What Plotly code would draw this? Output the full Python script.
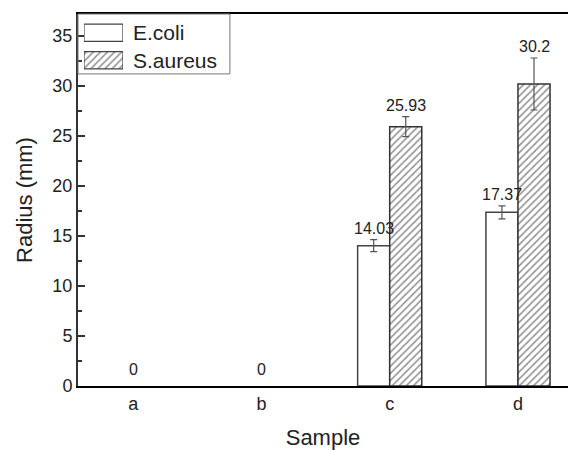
import plotly.graph_objects as go

# Inhibition-zone radius per sample
samples = ["a", "b", "c", "d"]
ecoli = [0, 0, 14.03, 17.37]
ecoli_err = [0, 0, 0.6, 0.65]
saureus = [0, 0, 25.93, 30.2]
saureus_err = [0, 0, 1.0, 2.6]
series_names = ["E.coli", "S.aureus"]

FONT = "Liberation Sans, Arial, sans-serif"
INK = "#222222"
HATCH = dict(shape="/", fgcolor="#262626", bgcolor="white", size=5, solidity=0.32)


def nonzero(vals, errs):
    # zero-height bars have no visible extent; leave them (and their caps) out
    keep = [i for i, v in enumerate(vals) if v != 0]
    return ([samples[i] for i in keep], [vals[i] for i in keep], [errs[i] for i in keep])


fig = go.Figure()
ex, ey, ee = nonzero(ecoli, ecoli_err)
fig.add_bar(
    name=series_names[0], x=ex, y=ey, showlegend=False,
    marker=dict(color="white", line=dict(color="#444444", width=1.5)),
    error_y=dict(type="data", array=ee, color="#555555", thickness=1.2, width=3.5),
)
sx, sy, se = nonzero(saureus, saureus_err)
fig.add_bar(
    name=series_names[1], x=sx, y=sy, showlegend=False,
    marker=dict(color="white", line=dict(color="#333333", width=1.5), pattern=HATCH),
    error_y=dict(type="data", array=se, color="#555555", thickness=1.2, width=3.5),
)

# Legend swatches: one horizontal bar per series on a small overlay axis pair
fig.add_bar(
    x=[1, 1], y=[1, 0], orientation="h", width=0.63, base=0,
    xaxis="x2", yaxis="y2", showlegend=False, hoverinfo="skip",
    marker=dict(color="white", line=dict(color="#444444", width=1.2),
                pattern=dict(shape=["", "/"], fgcolor="#262626", bgcolor="white",
                             size=5, solidity=0.32)),
)

# Value labels above each bar; zero-height groups get one centred label
annotations = []
for i, s in enumerate(samples):
    if ecoli[i] == 0 and saureus[i] == 0:
        annotations.append(dict(x=s, y=0, text="0", showarrow=False,
                                yanchor="bottom", yshift=6))
    else:
        annotations.append(dict(x=i - 0.125, y=ecoli[i] + ecoli_err[i], text=f"{ecoli[i]:g}",
                                showarrow=False, yanchor="bottom", yshift=1))
        annotations.append(dict(x=i + 0.125, y=saureus[i] + saureus_err[i], text=f"{saureus[i]:g}",
                                showarrow=False, yanchor="bottom", yshift=1))
for a in annotations:
    a["font"] = dict(family=FONT, size=16, color=INK)

# Legend labels
for name, yp in zip(series_names, [0.949, 0.876]):
    annotations.append(dict(xref="paper", yref="paper", x=0.108, y=yp, text=name,
                            showarrow=False, xanchor="left", yanchor="middle",
                            font=dict(family=FONT, size=21, color=INK)))

fig.update_layout(
    width=568, height=450,
    margin=dict(l=78, r=0, t=14, b=64),
    paper_bgcolor="white", plot_bgcolor="white",
    barmode="group", bargap=0.5, bargroupgap=0,
    font=dict(family=FONT, color=INK),
    annotations=annotations,
    showlegend=False,
    shapes=[dict(type="rect", xref="paper", yref="paper", x0=0, x1=0.31, y0=0.839, y1=1,
                 line=dict(color="#777777", width=1), fillcolor="rgba(0,0,0,0)", layer="above")],
    xaxis=dict(
        type="category", categoryorder="array", categoryarray=samples, range=[-0.43, 3.39],
        tickvals=samples, ticktext=samples,
        showline=True, linecolor="black", linewidth=2, mirror=True,
        ticks="", showgrid=False, zeroline=False,
        tickfont=dict(family=FONT, size=18, color=INK),
        title=dict(text="Sample", font=dict(family=FONT, size=22, color=INK), standoff=17),
    ),
    yaxis=dict(
        range=[0, 37.2], tickvals=[0, 5, 10, 15, 20, 25, 30, 35],
        showline=True, linecolor="#333333", linewidth=2,
        ticks="inside", ticklen=7, tickwidth=1.5, tickcolor="#333333",
        minor=dict(ticks="inside", ticklen=4, tickwidth=1.5, tickcolor="#333333", dtick=2.5, showgrid=False),
        showgrid=False, zeroline=False,
        tickfont=dict(family=FONT, size=18, color=INK),
        title=dict(text="Radius (mm)", font=dict(family=FONT, size=22, color=INK), standoff=14),
    ),
    xaxis2=dict(domain=[0.0122, 0.0918], range=[0, 1], anchor="y2", visible=False, fixedrange=True),
    yaxis2=dict(domain=[0.8387, 0.9866], range=[-0.5, 1.5], anchor="x2", visible=False, fixedrange=True),
)

fig.write_html("out.html")
